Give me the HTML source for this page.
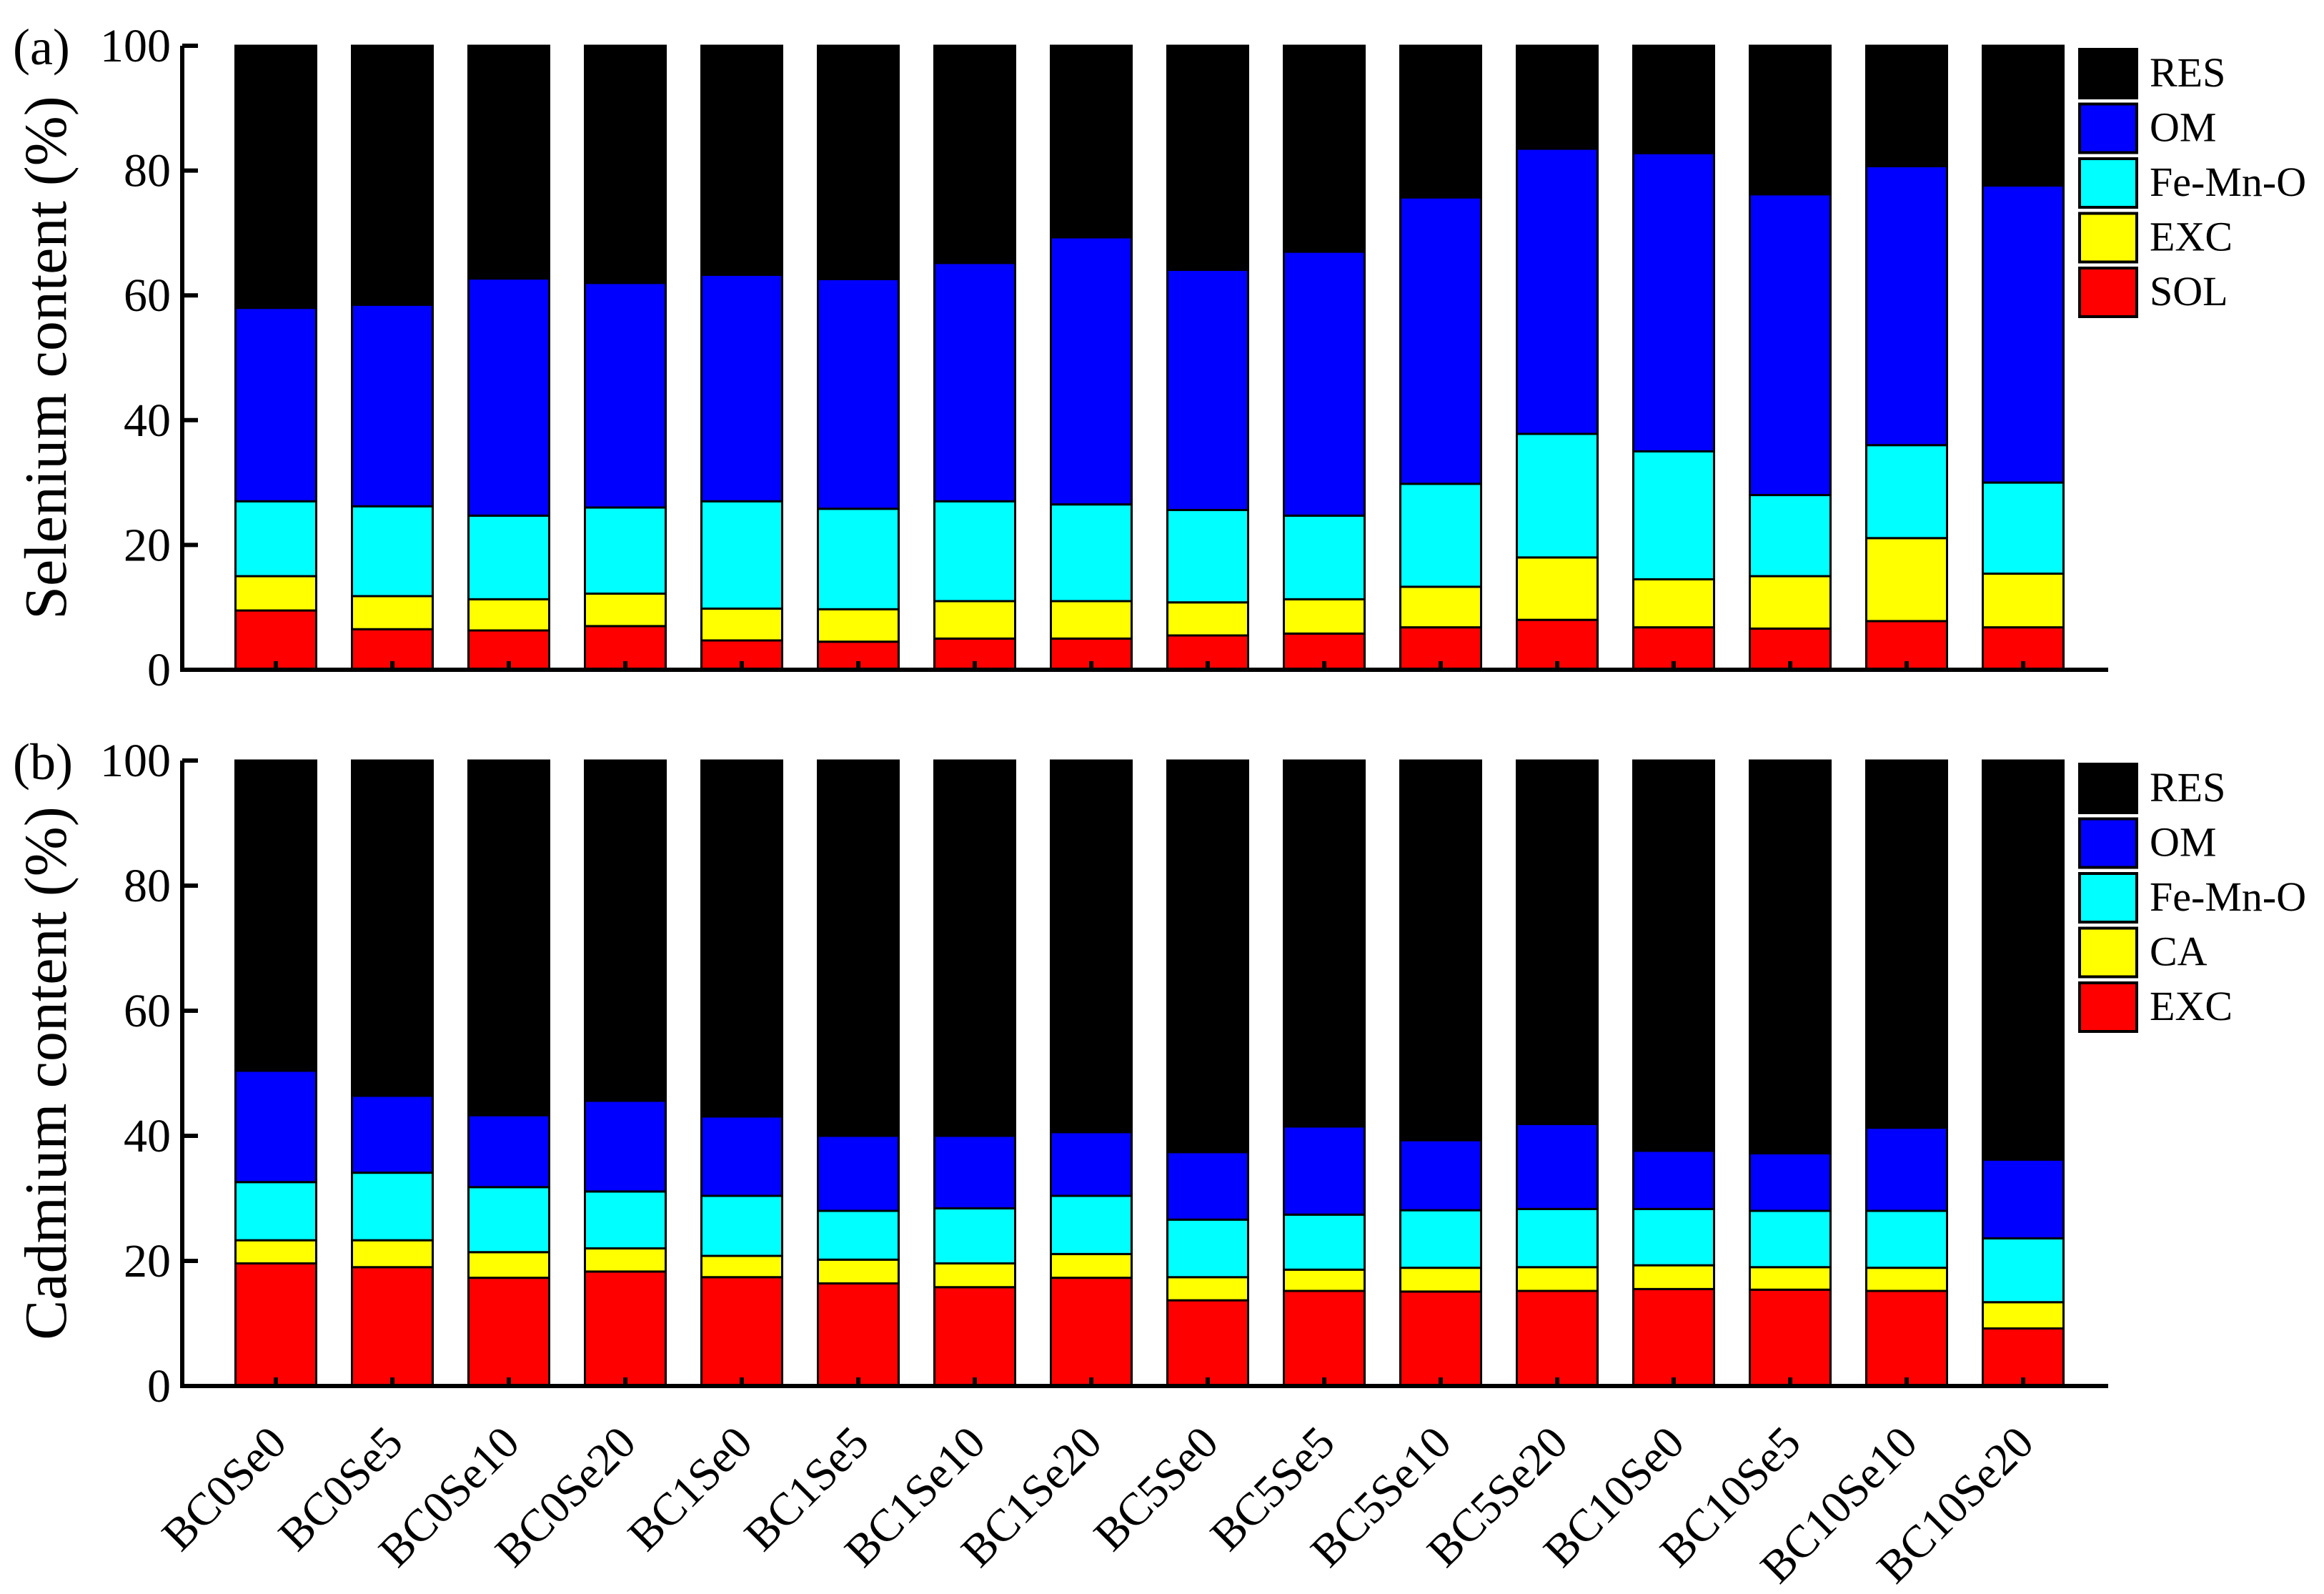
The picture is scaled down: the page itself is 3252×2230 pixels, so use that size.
<!DOCTYPE html>
<html><head><meta charset="utf-8"><style>
html,body{margin:0;padding:0;background:#fff}
svg text{font-family:"Liberation Serif",serif;fill:#000}
</style></head><body>
<svg id="chart" width="3252" height="2225" viewBox="0 0 3252 2225" xmlns="http://www.w3.org/2000/svg"></svg>
<script>
const categories=["BC0Se0","BC0Se5","BC0Se10","BC0Se20","BC1Se0","BC1Se5","BC1Se10","BC1Se20","BC5Se0","BC5Se5","BC5Se10","BC5Se20","BC10Se0","BC10Se5","BC10Se10","BC10Se20"];
const yTicks=[0,20,40,60,80,100];
// Panel (a) selenium: cumulative top of each fraction (%)
const seSolTop=[9.5,6.5,6.3,7,4.7,4.5,5,5,5.5,5.8,6.8,8,6.8,6.6,7.8,6.8];
const seExcTop=[15,11.8,11.3,12.2,9.8,9.7,11,11,10.8,11.3,13.3,18,14.5,15,21.1,15.4];
const seFeTop=[27,26.2,24.7,26,27,25.8,27,26.5,25.6,24.7,29.8,37.8,35,28,36,30];
const seOmTop=[58,58.5,62.7,62,63.3,62.6,65.2,69.3,64.1,67,75.7,83.5,82.8,76.2,80.7,77.6];
// Panel (b) cadmium
const cdExcTop=[19.6,19,17.3,18.3,17.4,16.4,15.8,17.3,13.7,15.2,15.1,15.2,15.5,15.4,15.2,9.2];
const cdCaTop=[23.3,23.3,21.4,22,20.8,20.2,19.6,21.1,17.4,18.6,18.9,19,19.3,19,18.9,13.4];
const cdFeTop=[32.6,34.1,31.8,31.1,30.4,28,28.4,30.4,26.6,27.4,28.1,28.3,28.3,28,28,23.6];
const cdOmTop=[50.4,46.4,43.3,45.6,43.1,40,40,40.6,37.4,41.5,39.3,41.9,37.6,37.2,41.3,36.2];
const seLegend=["RES","OM","Fe-Mn-O","EXC","SOL"];
const cdLegend=["RES","OM","Fe-Mn-O","CA","EXC"];

const NS="http://www.w3.org/2000/svg";
const svg=document.getElementById('chart');
function mk(tag,attrs,parent){const e=document.createElementNS(NS,tag);for(const k in attrs)e.setAttribute(k,attrs[k]);(parent||svg).appendChild(e);return e;}
const X0=255,X1=2950,C0=386,STEP=163,BW=113;
const xc=i=>C0+STEP*i;
const colors=["#ff0000","#ffff00","#00ffff","#0000ff","#000000"];
const legColors=["#000000","#0000ff","#00ffff","#ffff00","#ff0000"];

function panel(key,yTop,yBot,series,legend,title,tag){
  const g=mk('g',{});
  
  
  const ys=v=>yBot-(yBot-yTop)*v/100;
  const names=legend.slice().reverse();
  categories.forEach((c,i)=>{
    let prev=0;
    const tops=series.map(s=>s[i]).concat([100]);
    tops.forEach((t,k)=>{
      const r=mk('rect',{x:xc(i)-BW/2,y:ys(t),width:BW,height:ys(prev)-ys(t),fill:colors[k],stroke:'#000','stroke-width':3},g);
      
      
      prev=t;
    });
    const tk=mk('line',{x1:xc(i),x2:xc(i),y1:yBot,y2:yBot-12,stroke:'#000','stroke-width':6},g);
    
    
  });
  const ax=mk('path',{d:`M${X0},${yTop} V${yBot} H${X1}`,fill:'none',stroke:'#000','stroke-width':6},g);
  
  
  yTicks.forEach(v=>{
    const l=mk('line',{x1:X0,x2:X0+22,y1:ys(v),y2:ys(v),stroke:'#000','stroke-width':6},g);
    
    
    const t=mk('text',{x:X0-16,y:ys(v)+22,'text-anchor':'end','font-size':66},g);
    t.textContent=v;
    
    
  });
  const tt=mk('text',{x:0,y:0,'text-anchor':'middle','font-size':84,transform:`translate(92,${(yTop+yBot)/2}) rotate(-90)`},g);
  tt.textContent=title;
  
  
  const pl=mk('text',{x:18,y:yTop+26,'font-size':72},g);
  pl.textContent=tag;
  
  
  legend.forEach((n,k)=>{
    const y=yTop+5+k*76.5;
    const b=mk('rect',{x:2910,y:y,width:80,height:68,fill:legColors[k],stroke:'#000','stroke-width':4},g);
    
    
    const t=mk('text',{x:3008,y:y+52,'font-size':58},g);
    t.textContent=n;
    
    
  });
}
panel('selenium',64,937,[seSolTop,seExcTop,seFeTop,seOmTop],seLegend,'Selenium content (%)','(a)');
panel('cadmium',1064,1939,[cdExcTop,cdCaTop,cdFeTop,cdOmTop],cdLegend,'Cadmium content (%)','(b)');
categories.forEach((c,i)=>{
  const t=mk('text',{x:0,y:0,'text-anchor':'end','font-size':64,transform:`translate(${xc(i)+18},2022) rotate(-45)`});
  t.textContent=c;
  
  
});
</script>
</body></html>
